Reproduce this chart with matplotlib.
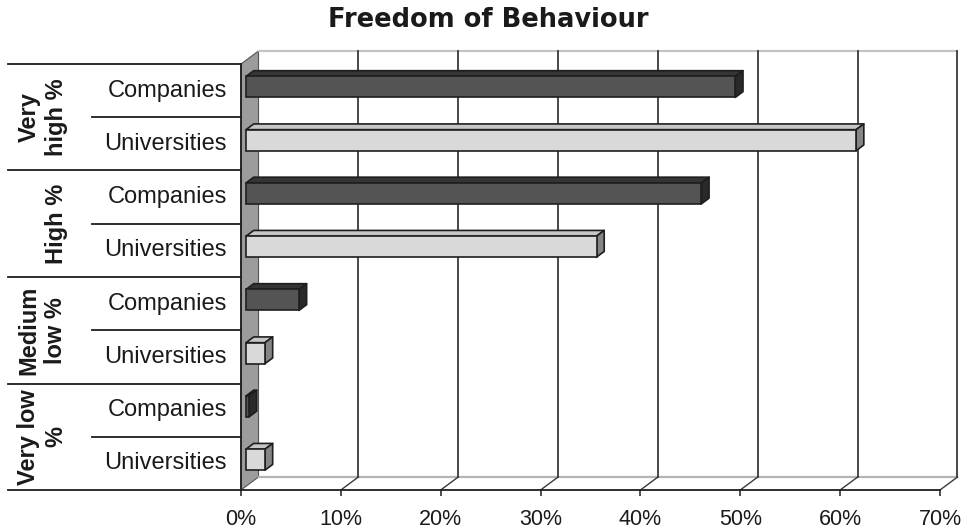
import matplotlib
matplotlib.use("Agg")
import matplotlib.pyplot as plt
from matplotlib.patches import Polygon
from matplotlib.lines import Line2D
import matplotlib.transforms as mtransforms

# ---------------- data ----------------
title = "Freedom of Behaviour"
groups = [["Very", "high %"], ["High %"], ["Medium", "low %"], ["Very low", "%"]]
series_names = ["Companies", "Universities"]
companies = [49.0, 45.6, 5.3, 0.3]
universities = [61.1, 35.1, 1.9, 1.9]
x_ticks = [0, 10, 20, 30, 40, 50, 60, 70]
x_ticklabels = ["0%", "10%", "20%", "30%", "40%", "50%", "60%", "70%"]

# ---------------- style ----------------
W, H = 968, 531
L, R, T, B = 241, 940, 64, 490          # front plot box in pixels
fig = plt.figure(figsize=(W / 100, H / 100), dpi=100)
fig.patch.set_facecolor("white")
ax = fig.add_axes([L / W, (H - B) / H, (R - L) / W, (B - T) / H])
nrows = 2 * len(groups)
ax.set_xlim(0, 70)
ax.set_ylim(nrows, 0)
ax.set_facecolor("none")

sx = (R - L) / 70.0
sy = (B - T) / nrows
DX = 17.5 / sx       # depth offset (data units)
DY = 13.0 / sy

edge = "#1e1e1e"
txt = "#1a1a1a"
label_font = "Liberation Sans"

# left wall
ax.add_patch(Polygon([(0, 0), (DX, -DY), (DX, nrows - DY), (0, nrows)],
                     closed=True, fc="#9c9c9c", ec="#555555", lw=0.8,
                     clip_on=False, zorder=1))
# back wall top edge
ax.add_line(Line2D([DX, 70 + DX], [-DY, -DY], color="#c4c4c4", lw=1.6,
                   clip_on=False, zorder=1))
# back gridlines
for v in x_ticks[1:]:
    ax.add_line(Line2D([v + DX, v + DX], [-DY, nrows - DY], color="#3a3a3a",
                       lw=1.3, clip_on=False, zorder=1.5))
# floor
ax.add_line(Line2D([DX, 70 + DX], [nrows - DY, nrows - DY], color="#b4b4b4",
                   lw=1.6, clip_on=False, zorder=1))
for v in x_ticks[1:]:
    ax.add_line(Line2D([v, v + DX], [nrows, nrows - DY], color="#3a3a3a",
                       lw=1.0, clip_on=False, zorder=1.5))

# spines / ticks
for s in ["top", "right"]:
    ax.spines[s].set_visible(False)
for s in ["left", "bottom"]:
    ax.spines[s].set_color(edge)
    ax.spines[s].set_linewidth(1.3)
ax.set_yticks([])
ax.set_xticks(x_ticks)
ax.set_xticklabels(x_ticklabels, fontsize=15.5, family=label_font, color=txt)
ax.tick_params(axis="x", direction="out", length=4, width=1.1, pad=10,
               color=edge)

# bars
d1, d2 = 0.286, 0.726
bh = 21.0 / sy
styles = {
    0: dict(front="#545454", top="#353535", side="#2a2a2a"),
    1: dict(front="#d9d9d9", top="#c6c6c6", side="#858585"),
}
series_vals = [companies, universities]
for g in range(len(groups)):
    for s, vals in enumerate(series_vals):
        val = vals[g]
        row = 2 * g + s + 0.5
        yf = row - DY * d1
        x0 = DX * d1
        st = styles[s]
        ax.barh(yf, val, height=bh, left=x0, color=st["front"],
                edgecolor=edge, linewidth=1.2, zorder=5)
        dd = d2 - d1
        yt = yf - bh / 2
        top = [(x0, yt), (x0 + val, yt), (x0 + val + DX * dd, yt - DY * dd),
               (x0 + DX * dd, yt - DY * dd)]
        side = [(x0 + val, yt), (x0 + val, yt + bh),
                (x0 + val + DX * dd, yt + bh - DY * dd),
                (x0 + val + DX * dd, yt - DY * dd)]
        ax.add_patch(Polygon(top, closed=True, fc=st["top"], ec=edge, lw=1.2,
                             zorder=4, joinstyle="round"))
        ax.add_patch(Polygon(side, closed=True, fc=st["side"], ec=edge, lw=1.2,
                             zorder=4, joinstyle="round"))

# category table on the left
trans = mtransforms.blended_transform_factory(ax.transAxes, ax.transData)
xa = (8 - L) / (R - L)
xb = (92 - L) / (R - L)
for k in range(0, nrows + 1, 2):
    ax.add_line(Line2D([xa, 0], [k, k], transform=trans, color=edge, lw=1.3,
                       clip_on=False, zorder=3))
for k in range(1, nrows, 2):
    ax.add_line(Line2D([xb, 0], [k, k], transform=trans, color=edge, lw=1.3,
                       clip_on=False, zorder=3))

xlab = (227 - L) / (R - L)
for g in range(len(groups)):
    for s, name in enumerate(series_names):
        ax.text(xlab, 2 * g + s + 0.5, name, transform=trans, ha="right",
                va="center", fontsize=17, family=label_font, color=txt)

xc1 = (29 - L) / (R - L)
xc2 = (56 - L) / (R - L)
for g, lines in enumerate(groups):
    cols = [xc1, xc2] if len(lines) == 2 else [xc2]
    for line, xc in zip(lines, cols):
        ax.text(xc, 2 * g + 1, line, transform=trans, rotation=90,
                ha="center", va="center", fontsize=17, fontweight="bold",
                family=label_font, color=txt)

fig.text(488 / W, 1 - 20 / H, title, ha="center", va="center", fontsize=18.5,
         fontweight="bold", family="DejaVu Sans", color=txt)

fig.savefig("out.png", dpi=100, facecolor="white")
